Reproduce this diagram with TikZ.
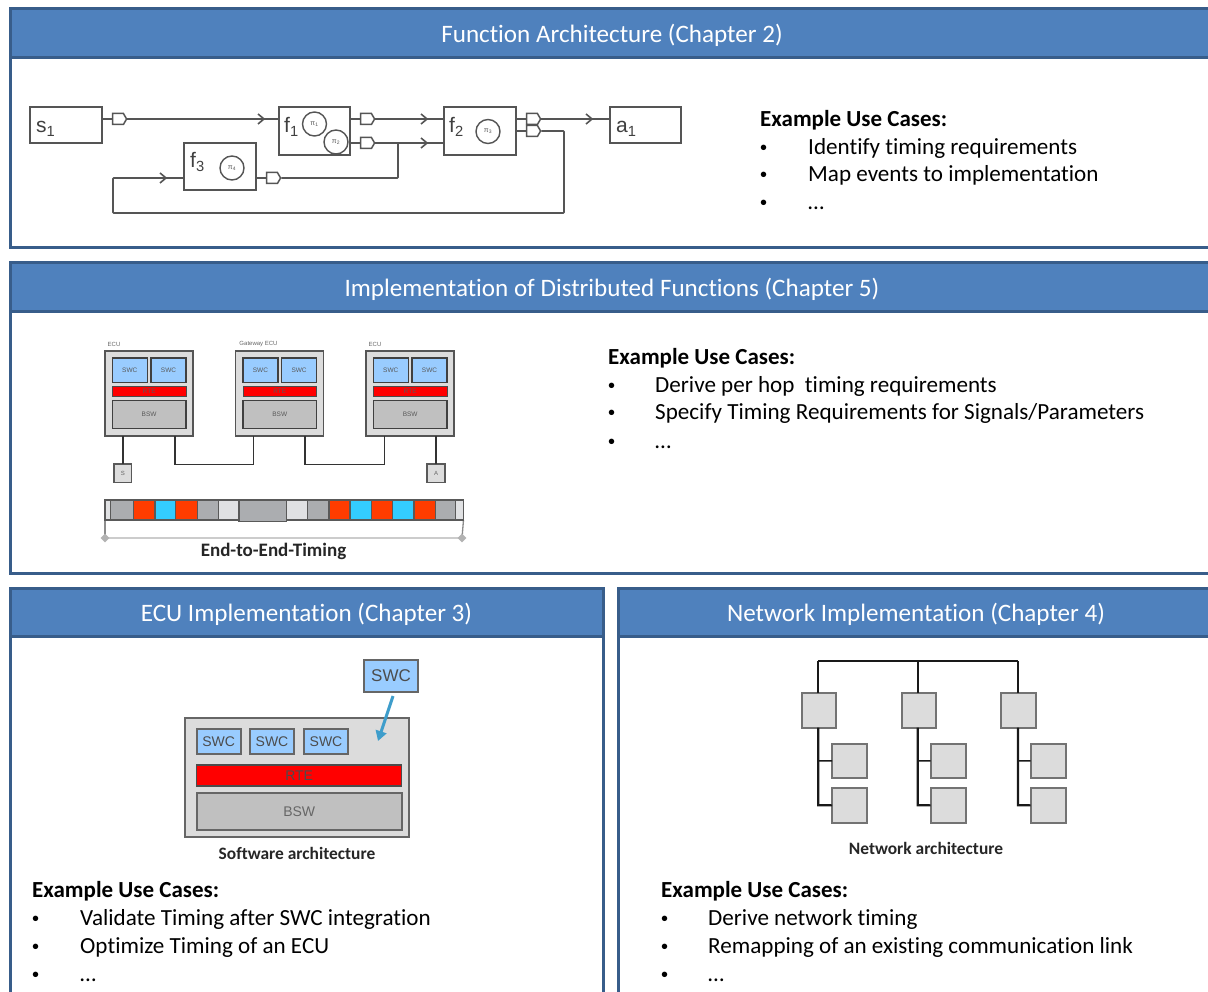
\documentclass[tikz,border=0pt]{standalone}
\usepackage{fontspec}
\setmainfont[Ligatures=CommonOff]{Carlito}
\newfontfamily\arial{Liberation Sans}
\usetikzlibrary{shapes.symbols,shapes.geometric,arrows.meta,calc}
\definecolor{panelline}{HTML}{385D8A}
\definecolor{panelfill}{HTML}{4F81BD}
\definecolor{wire}{HTML}{555555}
\definecolor{swcblue}{HTML}{99CCFF}
\definecolor{ecugrey}{HTML}{DCDCDC}
\definecolor{bswgrey}{HTML}{C0C0C0}
\definecolor{segg}{HTML}{ABADB0}
\definecolor{segl}{HTML}{E0E1E3}
\definecolor{sego}{HTML}{FF3C00}
\definecolor{segc}{HTML}{33CCFF}
\definecolor{arrowblue}{HTML}{3E9DCB}
\tikzset{
  panel/.style={draw=panelline,line width=3pt,fill=white},
  headbar/.style={draw=panelline,line width=3pt,fill=panelfill,text=white,font=\fontsize{25.1}{28}\selectfont},
  usehead/.style={anchor=base west,inner sep=0pt,font=\fontsize{23}{26}\selectfont\bfseries},
  usetext/.style={anchor=base west,inner sep=0pt,font=\fontsize{23.1}{26}\selectfont},
  bulletmark/.style={anchor=base west,inner sep=0pt,font=\arial\fontsize{20}{22}\selectfont},
  fblock/.style={draw=wire,line width=1.6pt,fill=white},
  wireline/.style={draw=wire,line width=1.6pt,rounded corners=0.8pt},
  portshape/.style={signal,signal to=east,draw=wire,line width=1.5pt,fill=white,minimum width=14pt,minimum height=11pt,inner sep=0pt,signal pointer angle=120},
  procircle/.style={circle,draw=wire,line width=1.4pt,fill=white,minimum size=24pt,inner sep=0pt,font=\arial\fontsize{7}{7}\selectfont,text=wire},
  flabel/.style={anchor=base west,inner sep=0pt,text=black!75,font=\arial\fontsize{21}{22}\selectfont},
  ecubox/.style={draw=wire,line width=1.6pt,fill=ecugrey,font=\arial\fontsize{6}{7}\selectfont},
  swcsmall/.style={draw=black!75,line width=1.5pt,fill=swcblue,text=black!65,font=\arial\fontsize{6.5}{7}\selectfont},
  rtesmall/.style={draw=black!70,line width=.8pt,fill=red,text=black!65,font=\arial\fontsize{6.5}{7}\selectfont},
  bswsmall/.style={draw=black!75,line width=1.5pt,fill=bswgrey,text=black!65,font=\arial\fontsize{6.5}{7}\selectfont},
  linkline/.style={draw=black!80,line width=1.5pt},
  sensorbox/.style={draw=black!65,line width=1.5pt,fill=ecugrey,text=black!60,font=\arial\fontsize{6}{7}\selectfont},
  tinylabel/.style={inner sep=0pt,text=black!60,font=\arial\fontsize{6}{7}\selectfont},
  seg/.style={draw=black!65,line width=1.2pt},
  caption/.style={inner sep=0pt,text=black!85,font=\fontsize{17.4}{18}\selectfont\bfseries},
  swcmid/.style={draw=black!60,line width=1.6pt,fill=swcblue,text=black!70,font=\arial\fontsize{14}{15}\selectfont},
  rtemid/.style={draw=black!70,line width=1.2pt,fill=red,text=black!70,font=\arial\fontsize{14}{15}\selectfont},
  bswmid/.style={draw=black!60,line width=1.6pt,fill=bswgrey,text=black!60,font=\arial\fontsize{14}{15}\selectfont},
  archbox/.style={draw=black!60,line width=1.3pt,fill=ecugrey},
  netbox/.style={draw=black!55,line width=1.8pt,fill=ecugrey},
  busline/.style={draw=black!90,line width=2.2pt},
}
% \bx[style]{name}{x1}{y1}{x2}{y2}{text}
\newcommand{\bx}[7][]{%
  \pgfmathsetmacro{\bxw}{(#5)-(#3)}\pgfmathsetmacro{\bxh}{(#6)-(#4)}%
  \pgfmathsetmacro{\bxx}{((#3)+(#5))/2}\pgfmathsetmacro{\bxy}{((#4)+(#6))/2}%
  \node[#1,minimum width=\bxw pt,minimum height=\bxh pt,inner sep=0pt,outer sep=0pt] (#2) at (\bxx,\bxy) {#7};}
\newcommand{\chev}[2]{\draw[wireline] (#1-4,#2-5) -- (#1+2,#2) -- (#1-4,#2+5);}
\newcommand{\bul}[5]{%
  \node[bulletmark] (#1b) at (#2,#4) {•};
  \node[usetext] (#1t) at (#3,#4) {#5};}
\newcommand{\hd}[1]{\raisebox{0pt}[\dimexpr\height+4pt][\depth]{#1}}
\begin{document}
\begin{tikzpicture}[x=1pt,y=-1pt]
\useasboundingbox (0,0) rectangle (1208,992);
\clip (0,0) rectangle (1208,992);
% ---- panels
\bx[panel]{pa}{10}{9}{1214}{248}{}
\bx[headbar]{ha}{10}{9}{1214}{58}{\hd{Function Architecture (Chapter 2)}}
\bx[panel]{pb}{10}{263}{1214}{573}{}
\bx[headbar]{hb}{10}{263}{1214}{312}{\hd{Implementation of Distributed Functions (Chapter 5)}}
\bx[panel]{pc}{10}{588}{603}{1004}{}
\bx[headbar]{hc}{10}{588}{603}{636}{\hd{ECU Implementation (Chapter 3)}}
\bx[panel]{pd}{618}{588}{1214}{1004}{}
\bx[headbar]{hd}{618}{588}{1214}{636}{\hd{Network Implementation (Chapter 4)}}
% ---- function architecture
\bx[fblock]{s1}{30}{107}{102}{143}{}
\bx[fblock]{f1}{279}{107}{350}{155}{}
\bx[fblock]{f2}{444}{107}{516}{155}{}
\bx[fblock]{f3}{184}{143}{256}{190}{}
\bx[fblock]{a1}{610}{107}{681}{143}{}
\node[portshape] (ps) at (118,119) {};
\node[portshape] (pf1a) at (366,119) {};
\node[portshape] (pf1b) at (366,143) {};
\node[portshape] (pf3) at (272,178) {};
\node[portshape] (pf2b) at (532,131) {};
\node[portshape] (pf2a) at (532,119) {};
\coordinate (junc) at (398,143);
\coordinate (loopr) at (564,131);
\coordinate (loopb) at (564,213);
\coordinate (loopc) at (113,213);
\coordinate (loopd) at (113,178);
\draw[wireline] (ps.east) -- (ps.east -| f1.west);
\draw[wireline] (ps.west) -- (ps.west -| s1.east);
\draw[wireline] (pf1a.east) -- (pf1a.east -| f2.west);
\draw[wireline] (pf1a.west) -- (pf1a.west -| f1.east);
\draw[wireline] (pf1b.east) -- (pf1b.east -| f2.west);
\draw[wireline] (pf1b.west) -- (pf1b.west -| f1.east);
\draw[wireline] (pf3.west) -- (pf3.west -| f3.east);
\draw[wireline] (pf3.east) -- (pf3.east -| junc) -- (junc);
\draw[wireline] (pf2a.east) -- (pf2a.east -| a1.west);
\draw[wireline] (pf2a.west) -- (pf2a.west -| f2.east);
\draw[wireline] (pf2b.west) -- (pf2b.west -| f2.east);
\draw[wireline] (pf2b.east) -- (loopr) -- (loopb) -- (loopc) -- (loopd) -- (loopd -| f3.west);
\chev{262}{119}\chev{425}{119}\chev{425}{143}\chev{590}{119}\chev{164}{178}
\node[procircle] (pi1) at (314.5,124) {π\textsubscript{1}};
\node[procircle] (pi2) at (336,142) {π\textsubscript{2}};
\node[procircle] (pi3) at (488,131.5) {π\textsubscript{3}};
\node[procircle] (pi4) at (232,168) {π\textsubscript{4}};
\node[flabel] (ls) at (36,133) {s\textsubscript{1}};
\node[flabel] (lf1) at (284,133) {f\textsubscript{1}};
\node[flabel] (lf2) at (449,133) {f\textsubscript{2}};
\node[flabel] (lf3) at (190,168) {f\textsubscript{3}};
\node[flabel] (la1) at (616,133) {a\textsubscript{1}};
% text 1
\node[usehead] (ua) at (760,126.5) {Example Use Cases:};
\bul{ua1}{760}{808}{154.5}{Identify timing requirements}
\bul{ua2}{760}{808}{181.5}{Map events to implementation}
\bul{ua3}{760}{808}{210}{…}
% ---- distributed
\foreach \n/\o in {a/0,b/130.6,c/261}{
  \bx[ecubox]{ecu\n}{105+\o}{351}{192.7+\o}{436}{}
  \bx[swcsmall]{sw\n1}{112.3+\o}{358}{147.3+\o}{382.7}{SWC}
  \bx[swcsmall]{sw\n2}{151+\o}{358}{186+\o}{382.7}{SWC}
  \bx[rtesmall]{rt\n}{112.3+\o}{386.7}{186+\o}{396.7}{RTE}
  \bx[bswsmall]{bs\n}{112.3+\o}{400.7}{186+\o}{428.3}{BSW}
}
\node[tinylabel] (le1) at (114,344) {ECU};
\node[tinylabel] (le2) at (258.5,344) {Gateway ECU};
\node[tinylabel] (le3) at (375,344) {ECU};
\bx[sensorbox]{sb}{114}{464}{131.7}{482.7}{S}
\bx[sensorbox]{ab}{427}{464}{445}{482.7}{A}
\draw[linkline] (sb.north) -- (sb.north |- ecua.south);
\draw[linkline] (ab.north) -- (ab.north |- ecuc.south);
\coordinate (l1a) at (175,436);
\coordinate (l1b) at (175,464.7);
\coordinate (l1c) at (253.7,464.7);
\coordinate (l1d) at (253.7,436);
\coordinate (l2a) at (305,436);
\coordinate (l2b) at (305,464.7);
\coordinate (l2c) at (384.3,464.7);
\coordinate (l2d) at (384.3,436);
\draw[linkline] (l1a) -- (l1b) -- (l1c) -- (l1d);
\draw[linkline] (l2a) -- (l2b) -- (l2c) -- (l2d);
\draw[draw=black!20,line width=1.5pt] (105,538) -- (462,538);
\draw[draw=black!45,line width=1.3pt] (105,520) -- (105,538);
\draw[draw=black!45,line width=1.3pt] (463.5,520) -- (462,538);
\node[diamond,fill=black!30,minimum size=9pt,inner sep=0pt] (da) at (105,538) {};
\node[diamond,fill=black!30,minimum size=9pt,inner sep=0pt] (db) at (462,538) {};
\foreach \i/\xa/\xb/\cc in {1/105/110.7/segl,2/110.7/133.3/segg,3/133.3/155/sego,4/155/175.7/segc,5/175.7/197.7/sego,6/197.7/218.3/segg,7/218.3/239/segl,9/286.7/307.7/segl,10/307.7/329/segg,11/329/350/sego,12/350/371.7/segc,13/371.7/392.7/sego,14/392.7/414/segc,15/414/435.7/sego,16/435.7/455.3/segg,17/455.3/463.3/segl}{
  \bx[seg,fill=\cc]{t\i}{\xa}{500}{\xb}{520}{}
}
\bx[seg,fill=segg]{t8}{239}{500}{286.7}{521.5}{}
\node[caption,font=\fontsize{19}{20}\selectfont\bfseries] (cb) at (273.5,551.5) {End-to-End-Timing};
% text 2
\node[usehead] (ub) at (608,364.5) {Example Use Cases:};
\bul{ub1}{608}{655}{392.5}{Derive per hop\ \ timing requirements}
\bul{ub2}{608}{655}{419.5}{Specify Timing Requirements for Signals/Parameters}
\bul{ub3}{608}{655}{448}{…}
% ---- ECU
\bx[archbox]{ge}{185}{718}{409}{837}{}
\bx[swcmid]{m1}{196.7}{729}{240.7}{754}{SWC}
\bx[swcmid]{m2}{250}{729}{294}{754}{SWC}
\bx[swcmid]{m3}{304}{729}{348}{754}{SWC}
\bx[rtemid]{mr}{196.7}{765}{401.7}{786}{RTE}
\bx[bswmid]{mb}{196.7}{793}{401.7}{830}{BSW}
\bx[swcmid,font=\arial\fontsize{17}{18}\selectfont]{mt}{364}{660}{418}{692}{SWC}
\coordinate (arrowend) at (378,741);
\draw[draw=arrowblue,line width=3pt,-{Triangle[length=10pt,width=11pt]}] ($(mt.south)+(2,4)$) -- (arrowend);
\node[caption] (cc) at (297,853) {Software architecture};
\node[usehead] (uc) at (32,897) {Example Use Cases:};
\bul{uc1}{32}{80}{925}{Validate Timing after SWC integration}
\bul{uc2}{32}{80}{953}{Optimize Timing of an ECU}
\bul{uc3}{32}{80}{981.5}{…}
% ---- network
\bx[netbox]{n1}{802}{693}{836}{727.7}{}
\bx[netbox]{n2}{901.7}{693}{936}{727.7}{}
\bx[netbox]{n3}{1000.7}{693}{1036}{727.7}{}
\foreach \n/\xa/\xs in {1/832/818.3,2/930.7/917.7,3/1030.7/1018}{
  \pgfmathsetmacro{\xe}{\xa+35}
  \bx[netbox]{c\n a}{\xa}{744}{\xe}{777.7}{}
  \bx[netbox]{c\n b}{\xa}{788}{\xe}{822.7}{}
  \draw[busline] (\xs,661) -- (\xs,693);
  \draw[busline] (\xs,727.7) -- (\xs,805.3) -- (c\n b.west);
  \draw[busline,line width=1.5pt] (\xs,760.8) -- (c\n a.west);
}
\draw[busline,line width=2pt] (818.3,661) -- (1018,661);
\node[caption] (cd) at (926,848) {Network architecture};
\node[usehead] (ud) at (661,897) {Example Use Cases:};
\bul{ud1}{661}{708}{925}{Derive network timing}
\bul{ud2}{661}{708}{953}{Remapping of an existing communication link}
\bul{ud3}{661}{708}{981.5}{…}
\end{tikzpicture}
\end{document}
